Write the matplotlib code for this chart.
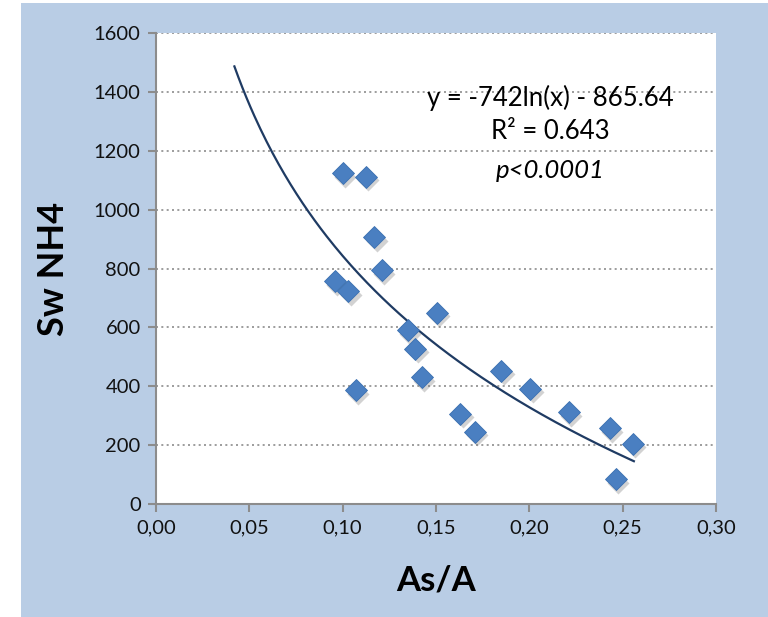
import numpy as np
import matplotlib
matplotlib.use("Agg")
import matplotlib.pyplot as plt
from matplotlib.patches import Rectangle

plt.rcParams['font.family'] = ['Lato', 'DejaVu Sans']

# data
as_a = [0.100, 0.1125, 0.117, 0.121, 0.096, 0.103, 0.107, 0.135, 0.139, 0.1425,
        0.1505, 0.163, 0.171, 0.185, 0.2005, 0.221, 0.243, 0.2555, 0.2465]
sw_nh4 = [1124, 1111, 907, 795, 757, 723, 387, 591, 527, 431,
          649, 306, 245, 452, 391, 312, 258, 204, 85]

# log fit from the chart: y = -742 ln(x) - 865.64
fit_a, fit_b = -742, -865.64
fit_x = np.linspace(0.042, 0.256, 200)
fit_y = fit_a * np.log(fit_x) + fit_b

xticks = [0.00, 0.05, 0.10, 0.15, 0.20, 0.25, 0.30]
xticklabels = ['0,00', '0,05', '0,10', '0,15', '0,20', '0,25', '0,30']
yticks = [0, 200, 400, 600, 800, 1000, 1200, 1400, 1600]

bg = '#b9cde5'
fig = plt.figure(figsize=(7.68, 6.17), dpi=100)
# blue chart-area frame behind everything
fig.add_artist(Rectangle((21 / 768, 0), 1 - 21 / 768, 1 - 3 / 617,
                         transform=fig.transFigure, facecolor=bg,
                         edgecolor='none', zorder=-10))

ax = fig.add_axes([156 / 768, 1 - 504 / 617, 560 / 768, 471 / 617])
ax.set_facecolor('white')

ax.plot(fit_x, fit_y, color='#1f3b63', lw=1.6, zorder=3)

# soft shadow under the diamonds
ax.plot(np.array(as_a) + 0.0012, np.array(sw_nh4) - 12, 'D', ms=11,
        color='#7f7f7f', alpha=0.35, mec='none', zorder=3)
ax.plot(as_a, sw_nh4, 'D', ms=11, color='#4a7fc1', mec='#3a6fb0',
        mew=0.6, zorder=4)

ax.set_xlim(0, 0.30)
ax.set_ylim(0, 1600)
ax.set_xticks(xticks)
ax.set_xticklabels(xticklabels)
ax.set_yticks(yticks)
ax.grid(axis='y', color='#8c8c8c', linestyle=(0, (1.2, 2)), lw=1.2)
ax.set_axisbelow(True)

for s in ['top', 'right']:
    ax.spines[s].set_visible(False)
for s in ['left', 'bottom']:
    ax.spines[s].set_color('#8c8c8c')
    ax.spines[s].set_linewidth(1.5)
ax.tick_params(direction='out', length=6, width=1.5, color='#8c8c8c',
               labelsize=14.5, labelcolor='#111111', pad=5)

ax.set_xlabel('As/A', fontsize=25, fontweight='bold', labelpad=20)
ax.set_ylabel('Sw NH4', fontsize=26, fontweight='bold', labelpad=17)

ax.text(0.704, 0.862, 'y = -742ln(x) - 865.64', transform=ax.transAxes,
        ha='center', va='center', fontsize=18.5)
ax.text(0.704, 0.790, 'R² = 0.643', transform=ax.transAxes,
        ha='center', va='center', fontsize=18.5)
ax.text(0.704, 0.709, 'p<0.0001', transform=ax.transAxes,
        ha='center', va='center', fontsize=18.5, style='italic')

fig.savefig('out.png', dpi=100)
